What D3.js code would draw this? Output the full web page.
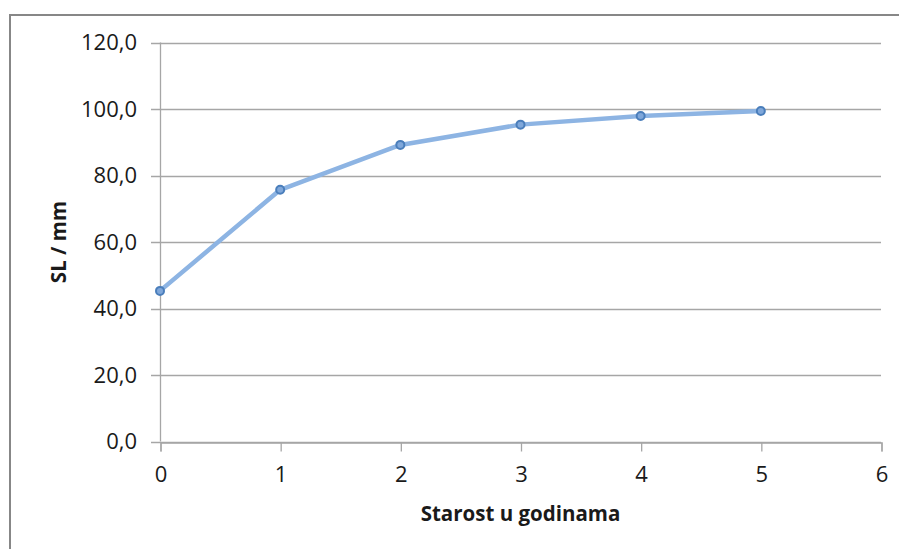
<!DOCTYPE html>
<html><head><meta charset="utf-8">
<script src="https://cdn.jsdelivr.net/npm/d3@7"></script>
<style>
html,body{margin:0;padding:0;background:#fff;}
svg{display:block;}
text{font-family:"Open Sans",sans-serif;fill:#1a1a1a;}
</style></head>
<body>
<svg id="c" width="899" height="549"></svg>
<script>
const ages = [0, 1, 2, 3, 4, 5];
const slValues = [45.3, 75.7, 89.2, 95.3, 97.9, 99.4];
const xTicks = [0, 1, 2, 3, 4, 5, 6];
const yTicks = [0, 20, 40, 60, 80, 100, 120];
const xTitle = "Starost u godinama";
const yTitle = "SL / mm";

const svg = d3.select("#c");
svg.append("rect").attr("x", 10).attr("y", 15).attr("width", 895).attr("height", 545)
  .attr("fill", "none").attr("stroke", "#878787").attr("stroke-width", 2);

const x = d3.scaleLinear().domain([0, 6]).range([160, 881]);
const y = d3.scaleLinear().domain([0, 120]).range([441.5, 42.5]);
const gridC = "#a6a6a6";

svg.append("g").selectAll("line").data(yTicks).join("line")
  .attr("x1", 151).attr("x2", 881)
  .attr("y1", d => Math.round(y(d)) + 0.5).attr("y2", d => Math.round(y(d)) + 0.5)
  .attr("stroke", gridC).attr("stroke-width", 1.3);

svg.append("line").attr("x1", 160.5).attr("x2", 160.5).attr("y1", y(120)).attr("y2", y(0))
  .attr("stroke", gridC).attr("stroke-width", 1.3);

const xAxis = d3.axisBottom(x).tickValues(xTicks).tickSize(9).tickPadding(15).tickFormat(d3.format("d"));
const gx = svg.append("g").attr("transform", `translate(0.5,${Math.round(y(0)) + 0.5})`).call(xAxis);
gx.select(".domain").attr("stroke", gridC).attr("stroke-width", 1.3);
gx.selectAll(".tick line").attr("stroke", gridC).attr("stroke-width", 1.3);
gx.selectAll(".tick text").attr("font-size", 22).attr("font-family", "Open Sans").attr("fill", "#1a1a1a");

const fmt = v => d3.format(".1f")(v).replace(".", ",");
const yAxis = d3.axisLeft(y).tickValues(yTicks).tickSize(0).tickPadding(23).tickFormat(fmt);
const gy = svg.append("g").attr("transform", "translate(160,0)").call(yAxis);
gy.select(".domain").remove();
gy.selectAll(".tick text").attr("font-size", 22).attr("font-family", "Open Sans").attr("fill", "#1a1a1a");

const line = d3.line().x((d, i) => x(ages[i])).y(d => y(d));
svg.append("path").datum(slValues).attr("d", line)
  .attr("fill", "none").attr("stroke", "#8db4e3").attr("stroke-width", 4.5)
  .attr("stroke-linejoin", "round").attr("stroke-linecap", "round");

svg.append("g").selectAll("circle").data(slValues).join("circle")
  .attr("cx", (d, i) => x(ages[i])).attr("cy", d => y(d)).attr("r", 4)
  .attr("fill", "#7fa7da").attr("stroke", "#4a7ebb").attr("stroke-width", 2);

svg.append("text").attr("x", 520.5).attr("y", 521).attr("text-anchor", "middle")
  .attr("font-size", 20.5).attr("font-weight", "bold").text(xTitle);
svg.append("text").attr("transform", "translate(66,242) rotate(-90)").attr("text-anchor", "middle")
  .attr("font-size", 20.5).attr("font-weight", "bold").text(yTitle);
</script>
</body></html>
